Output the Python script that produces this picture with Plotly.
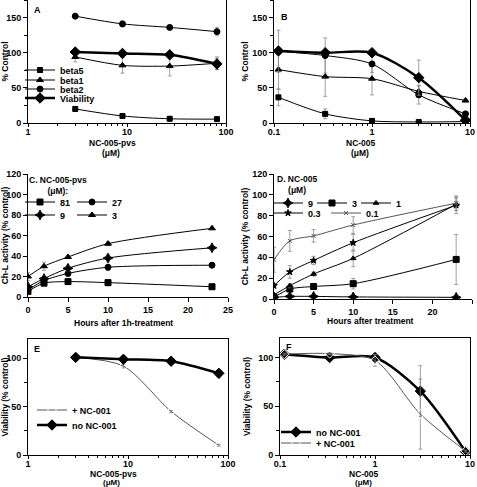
import plotly.graph_objects as go

# ---------------- data ----------------
conc_pvs = [3, 9, 27, 81]                 # NC-005-pvs (uM)
conc_005 = [0.111, 0.333, 1, 3, 9]        # NC-005 (uM)
hours = [0, 2, 5, 10, 23]

# Panel A
a_beta5 = [20, 10, 6, 5.5]
a_beta1 = [94, 82, 81, 85]
a_beta2 = [152, 141, 136, 130]
a_viab = [101, 99, 97, 84]
a_beta5_err = [3, 2, 1, 1]
a_beta1_err = [7, 11, 14, 9]
a_beta2_err = [2, 4, 2, 6]
a_viab_err = [3, 3, 4, 8]

# Panel B
b_beta5 = [36.5, 13, 3, 1.5, 2]
b_beta1 = [76, 66, 63, 45, 32]
b_beta2 = [102, 96, 84, 40, 13]
b_viab = [102.5, 100, 100, 64.5, 4]
b_beta5_err = [12, 7, 1, 1, 1]
b_beta1_err = [28, 28, 23, 8, 2]
b_beta2_err = [30, 25, 12, 13, 3]
b_viab_err = [3, 3, 3, 25, 2]

# Panel C (NC-005-pvs doses)
c_81 = [5.5, 13.5, 15, 14, 10]
c_27 = [7, 16, 23, 29, 31]
c_9 = [10, 18, 28, 38, 48]
c_3 = [20, 30, 39, 52, 67]
c_81_err = [1, 2, 2, 3, 2]
c_27_err = [2, 2, 3, 3, 2]
c_9_err = [2, 2, 3, 3, 2]
c_3_err = [4, 4, 1, 2, 1]

# Panel D (NC-005 doses)
d_9 = [1.6, 2.5, 2.5, 2, 1.6]
d_3 = [1.6, 9.6, 12, 14.7, 38]
d_1 = [4, 12.8, 24, 39, 91]
d_03 = [12.8, 26, 37, 54, 90]
d_01 = [37.7, 55.8, 60.6, 71, 92]
d_9_err = [0.5, 0.5, 0.5, 0.5, 0.5]
d_3_err = [1, 2, 1, 5, 24]
d_1_err = [1, 2, 2, 8, 6]
d_03_err = [2, 6, 4, 8, 8]
d_01_err = [12, 10, 6, 8, 7]

# Panel E
e_plus = [101, 92, 45, 10]
e_no = [101, 99, 97, 84.5]
e_plus_err = [1, 2, 1, 1]
e_no_err = [2, 1, 2, 4]

# Panel F
f_no = [103.4, 100, 100, 65.5, 3.4]
f_plus = [103.4, 104, 97, 42, 4]
f_no_err = [1, 1, 2, 26, 1]
f_plus_err = [1, 1, 6, 36, 1]

# ---------------- layout helpers ----------------
W, H = 477, 487
FONT = "Liberation Sans, Arial, sans-serif"


def px_x(p):
    return p / W


def px_y(p):
    return 1 - p / H


fig = go.Figure()


def add(x, y, err, ax, symbol, name=None, legend=None, lw=1, size=5,
        color="black", fill=True, lcolor=None):
    fig.add_trace(go.Scatter(
        x=x, y=y, mode="lines+markers", name=name,
        xaxis="x" + ax, yaxis="y" + ax,
        line=dict(color=lcolor or color, width=lw, shape="spline", smoothing=0.8),
        marker=dict(symbol=symbol if fill else symbol + "-open", size=size,
                    color=color if fill else "white",
                    line=dict(color=color, width=1)),
        error_y=dict(type="data", array=err, visible=True, color="#888",
                     thickness=0.8, width=2),
        showlegend=legend is not None,
        legend=legend if legend else "legend",
    ))


# Panel A (axes 1)
add(conc_pvs, a_beta5, a_beta5_err, "", "square", "beta5", "legend", size=5)
add(conc_pvs, a_beta1, a_beta1_err, "", "triangle-up", "beta1", "legend2", size=6)
add(conc_pvs, a_beta2, a_beta2_err, "", "circle", "beta2", "legend3", size=6)
add(conc_pvs, a_viab, a_viab_err, "", "diamond", "Viability", "legend4", lw=2.5, size=8)

# Panel B (axes 2)
add(conc_005, b_beta5, b_beta5_err, "2", "square", size=5)
add(conc_005, b_beta1, b_beta1_err, "2", "triangle-up", size=6)
add(conc_005, b_beta2, b_beta2_err, "2", "circle", size=6)
add(conc_005, b_viab, b_viab_err, "2", "diamond", lw=2.5, size=8)

# Panel C (axes 3)
add(hours, c_81, c_81_err, "3", "square", "81", "legend5", size=6)
add(hours, c_27, c_27_err, "3", "circle", "27", "legend6", size=6)
add(hours, c_9, c_9_err, "3", "star-diamond", "9", "legend7", size=7)
add(hours, c_3, c_3_err, "3", "triangle-up", "3", "legend8", size=6)

# Panel D (axes 4)
add(hours, d_9, d_9_err, "4", "star-diamond", "9", "legend9", size=7)
add(hours, d_3, d_3_err, "4", "square", "3", "legend10", size=6)
add(hours, d_1, d_1_err, "4", "triangle-up", "1", "legend11", size=5)
add(hours, d_03, d_03_err, "4", "star", "0.3", "legend12", size=5)
add(hours, d_01, d_01_err, "4", "x-thin", "0.1", "legend13", size=4,
    color="#555")

# Panel E (axes 5)
add(conc_pvs, e_plus, e_plus_err, "5", "diamond", "+ NC-001", "legend14",
    size=7, color="#555", fill=False)
add(conc_pvs, e_no, e_no_err, "5", "diamond", "no NC-001", "legend15",
    lw=2.5, size=8)

# Panel F (axes 6)
add(conc_005, f_no, f_no_err, "6", "diamond", "no NC-001", "legend16",
    lw=2.5, size=8)
add(conc_005, f_plus, f_plus_err, "6", "diamond", "+ NC-001", "legend17",
    size=7, color="#555", fill=False)

tickfont = dict(family=FONT, size=9, color="black", weight="bold")
titlefont = dict(family=FONT, size=8.5, color="black", weight="bold")


def logx(domain, rng, minor_vals, anchor, lblshift=-3, ticklen=3):
    return dict(domain=domain, type="log", range=rng, anchor=anchor,
                automargin=False,
                showline=True, linecolor="black", linewidth=1, mirror=True,
                ticks="outside", ticklen=ticklen, tickcolor="black",
                tickvals=[10 ** k for k in range(-1, 3)],
                ticktext=["0.1", "1", "10", "100"],
                ticklabelstandoff=lblshift,
                minor=dict(ticks="outside", ticklen=2, tickcolor="black",
                           tickvals=minor_vals),
                showgrid=False, zeroline=False, tickfont=tickfont)


def liny(domain, rng, dtick, minor, title, anchor, mirror=True, standoff=2):
    d = dict(domain=domain, range=rng, anchor=anchor, showline=True,
             automargin=False,
             linecolor="black", linewidth=1, mirror=mirror,
             ticks="outside", ticklen=4, tickcolor="black", dtick=dtick,
             showgrid=False, zeroline=False, tickfont=tickfont,
             title=dict(text=title, font=titlefont, standoff=standoff))
    if minor:
        d["minor"] = dict(ticks="outside", ticklen=3, tickcolor="black",
                          dtick=minor)
    return d


def linx(domain, anchor):
    return dict(domain=domain, range=[0, 25], anchor=anchor, dtick=5,
                automargin=False,
                showline=True, linecolor="black", ticks="outside", ticklen=4,
                tickcolor="black",
                showgrid=False, zeroline=False, tickfont=tickfont)


minor_1_100 = [m * 10 ** k for k in range(0, 2) for m in range(2, 10)]
minor_01_10 = [round(m * 10 ** k, 3) for k in range(-1, 1) for m in range(2, 10)]

xA = [px_x(28), px_x(226)]
xB = [px_x(274), px_x(470)]
yAB = [px_y(123), px_y(0)]
xC = [px_x(28), px_x(228)]
yC = [px_y(297), px_y(174)]
xD = [px_x(274), px_x(472)]
yD = [px_y(299), px_y(174)]
xE = [px_x(28), px_x(228)]
yE = [px_y(455), px_y(339)]
xF = [px_x(280), px_x(470)]
yF = [px_y(455), px_y(338)]

layout = dict(
    width=W, height=H, margin=dict(l=0, r=0, t=0, b=0, autoexpand=False),
    paper_bgcolor="white", plot_bgcolor="white",
    font=dict(family=FONT, size=9, color="black"),
    xaxis=logx(xA, [0, 2], minor_1_100, "y"),
    yaxis=liny(yAB, [0, 175], 50, 25, "% Control", "x"),
    xaxis2=logx(xB, [-1, 1], minor_01_10, "y2"),
    yaxis2=liny(yAB, [0, 175], 50, 25, "% Control", "x2"),
    xaxis3=linx(xC, "y3"),
    yaxis3=liny(yC, [0, 120], 20, None, "Ch-L activity (% control)", "x3",
                mirror=False),
    xaxis4=linx(xD, "y4"),
    yaxis4=liny(yD, [0, 120], 20, None, "Ch-L activity (% control)", "x4",
                mirror=False),
    xaxis5=logx(xE, [0, 2], minor_1_100, "y5"),
    yaxis5=liny(yE, [0, 120], 50, 25, "Viability (% control)", "x5"),
    xaxis6=logx(xF, [-1, 1], minor_01_10, "y6"),
    yaxis6=liny(yF, [0, 120], 50, 25, "Viability (% control)", "x6",
                standoff=6),
)

# legends: one per entry so they can be placed like the original keys
legend_pos = {
    "legend": (20, 70), "legend2": (20, 80), "legend3": (20, 89),
    "legend4": (20, 98),
    "legend5": (20, 202), "legend6": (72, 202),
    "legend7": (20, 215), "legend8": (72, 215),
    "legend9": (268, 203), "legend10": (312, 203), "legend11": (356, 203),
    "legend12": (268, 213), "legend13": (326, 213),
    "legend14": (32, 410), "legend15": (32, 425),
    "legend16": (276, 432), "legend17": (276, 443),
}
for key, (lx, ly) in legend_pos.items():
    layout[key] = dict(x=px_x(lx), y=px_y(ly), xanchor="left", yanchor="middle",
                       bgcolor="rgba(0,0,0,0)", borderwidth=0,
                       font=dict(family=FONT, size=9, color="black",
                                 weight="bold"),
                       itemwidth=30)

fig.update_layout(**layout)

# panel labels, legend headings and x-axis titles
ann = [
    ("A", 37, 10, 9), ("B", 284, 17, 9), ("E", 37, 349, 9), ("F", 289, 347, 9),
    ("C. NC-005-pvs<br>(\u03bcM):", 58, 185, 8.5),
    ("D. NC-005<br>(\u03bcM)", 297, 184, 8.5),
    ("NC-005-pvs", 112, 143, 8.5), ("(\u03bcM)", 111, 152.5, 8.5),
    ("NC-005", 361, 143, 8.5), ("(\u03bcM)", 360, 152.5, 8.5),
    ("Hours after 1h-treatment", 123, 323, 8.5),
    ("Hours after treatment", 370, 321, 8.5),
    ("NC-005-pvs", 113, 474, 8.5), ("(\u03bcM)", 111, 482.5, 8),
    ("NC-005", 364, 474, 8.5), ("(\u03bcM)", 363, 482.5, 8),
]
for text, ax_, ay_, fs in ann:
    fig.add_annotation(text=text, x=px_x(ax_), y=px_y(ay_), xref="paper",
                       yref="paper", showarrow=False, xanchor="center",
                       yanchor="middle",
                       font=dict(family=FONT, size=fs, color="black",
                                 weight="bold"))

fig.write_html("out.html", config={"displayModeBar": False},
               post_script="document.body.style.margin='0px';")
